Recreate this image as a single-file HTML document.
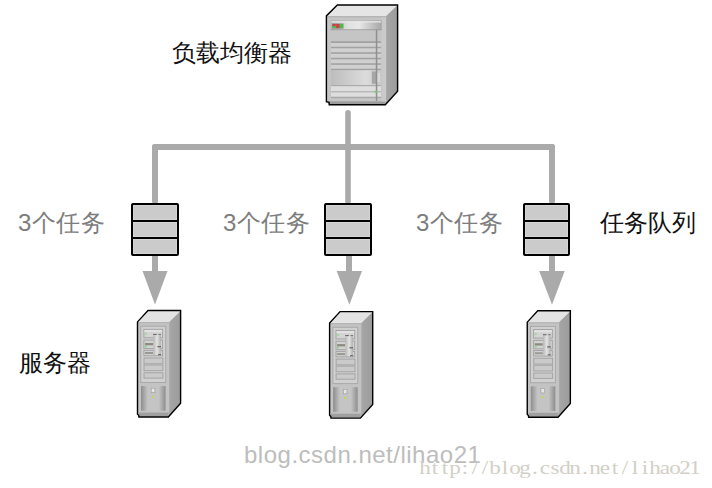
<!DOCTYPE html>
<html><head><meta charset="utf-8">
<style>
html,body{margin:0;padding:0;background:#fff;width:712px;height:488px;overflow:hidden;position:relative;font-family:"Liberation Sans",sans-serif;}
.t{position:absolute;white-space:nowrap;line-height:1;}
.k{color:#111;font-size:24px;}
.g{color:#7d7d7d;font-size:24px;letter-spacing:0.4px;}
.wm2{font-family:"Liberation Serif",serif;font-size:19px;color:#d2d0c6;}
.wm2 span{display:inline-block;width:10px;text-align:center;transform:scaleX(1.22);}
svg{position:absolute;left:0;top:0;}
</style></head><body>
<svg width="712" height="488" viewBox="0 0 712 488">
<defs>
  <linearGradient id="bar" x1="0" x2="1" y1="0" y2="0">
    <stop offset="0" stop-color="#b4b4b4"/><stop offset="0.35" stop-color="#e2e2e2"/><stop offset="0.55" stop-color="#e8e8e8"/><stop offset="1" stop-color="#a6a6a6"/>
  </linearGradient>
  <linearGradient id="door" x1="0" x2="1" y1="0" y2="0">
    <stop offset="0" stop-color="#bdbdbd"/><stop offset="0.7" stop-color="#dcdcdc"/><stop offset="1" stop-color="#c8c8c8"/>
  </linearGradient>
  <linearGradient id="side" x1="0" x2="1" y1="0" y2="0">
    <stop offset="0" stop-color="#b0b0b0"/><stop offset="0.2" stop-color="#a4a4a4"/><stop offset="1" stop-color="#9c9c9c"/>
  </linearGradient>
  <linearGradient id="recL" x1="0" x2="1" y1="0" y2="0">
    <stop offset="0" stop-color="#8e8e8e"/><stop offset="1" stop-color="#c6c6c6"/>
  </linearGradient>
  <linearGradient id="recR" x1="0" x2="1" y1="0" y2="0">
    <stop offset="0" stop-color="#c6c6c6"/><stop offset="1" stop-color="#8e8e8e"/>
  </linearGradient>
  <linearGradient id="sdoor" x1="0" x2="1" y1="0" y2="0">
    <stop offset="0" stop-color="#b8b8b8"/><stop offset="0.5" stop-color="#e4e4e4"/><stop offset="1" stop-color="#b0b0b0"/>
  </linearGradient>

  <g id="srv">
    <!-- top face -->
    <polygon points="0.8,12.3 11.3,1.2 43.6,1.2 32.2,12.3" fill="#e3e3e3"/>
    <!-- side face -->
    <polygon points="32.2,12.3 43.6,1.2 43.6,93.4 31.6,107 31.6,12.3" fill="url(#side)"/>
    <!-- front face -->
    <rect x="0.8" y="12.3" width="31.4" height="90.5" fill="#c3c3c3"/>
    <rect x="0.8" y="12.3" width="31.4" height="1.2" fill="#b4b4b4"/>
    <rect x="1.6" y="102.6" width="30.2" height="4.4" fill="#a0a0a0"/>
    <!-- inner panel -->
    <rect x="3.9" y="16.5" width="24.9" height="56.3" fill="#d0d0d0" stroke="#a9a9a9" stroke-width="1"/>
    <rect x="7" y="19.6" width="18.7" height="8.5" fill="#d4d4d4" stroke="#a0a0a0" stroke-width="0.9"/>
    <rect x="7.5" y="20.4" width="17.7" height="1.6" fill="#e4e4e4"/>
    <rect x="7" y="30.4" width="18.7" height="8.5" fill="#d2d2d2" stroke="#a0a0a0" stroke-width="0.9"/>
    <rect x="8.1" y="33.3" width="8" height="2.3" fill="#8c8c80"/>
    <rect x="7" y="40.6" width="18.7" height="5.5" fill="#d0d0d0" stroke="#a0a0a0" stroke-width="0.9"/>
    <rect x="8.1" y="42.3" width="8" height="2" fill="#9a9a94"/>
    <rect x="16.5" y="25.5" width="7.3" height="19.7" fill="url(#sdoor)"/>
    <rect x="16.2" y="24.2" width="3.6" height="1.1" fill="#6a6a6a"/>
    <rect x="21.5" y="24.2" width="2.6" height="1.1" fill="#7a7a7a"/>
    <rect x="20.5" y="36.3" width="3.6" height="1.3" fill="#6a6a6a"/>
    <rect x="21.1" y="44.3" width="3" height="1.2" fill="#6a6a6a"/>
    <rect x="8.3" y="23.5" width="1.7" height="1.3" fill="#7ad87a"/>
    <rect x="8" y="36.3" width="2" height="1.3" fill="#7ad87a"/>
    <rect x="7.1" y="48.3" width="18.9" height="5.8" fill="#cacaca" stroke="#a0a0a0" stroke-width="0.9"/>
    <rect x="7.1" y="55.3" width="18.9" height="5.7" fill="#cacaca" stroke="#a0a0a0" stroke-width="0.9"/>
    <rect x="7.1" y="63.1" width="18.9" height="5.3" fill="#cacaca" stroke="#a0a0a0" stroke-width="0.9"/>
    <!-- lower recess -->
    <rect x="4.1" y="76.4" width="24.6" height="24.6" fill="#c4c4c4"/>
    <rect x="4.1" y="76.4" width="7" height="24.6" fill="url(#recL)"/>
    <rect x="21.7" y="76.4" width="7" height="24.6" fill="url(#recR)"/>
    <rect x="14.3" y="78.5" width="3.7" height="4.5" fill="#e6e6e6" stroke="#9a9a9a" stroke-width="0.6"/>
    <circle cx="16.2" cy="87.1" r="1.1" fill="#b8e04a"/>
    <!-- outline -->
    <path d="M0.6,104.5 L0.6,12.2 L11.1,0.8 L43.7,0.8 L43.7,93.6 L31.4,107.3 L2,107.3 L1.8,105.6 Z" fill="none" stroke="#000" stroke-width="1.4" stroke-linejoin="miter"/>
  </g>
</defs>

<!-- connector lines -->
<g fill="#aaaaaa">
  <rect x="345.2" y="110" width="5.6" height="94" rx="2.8"/>
  <rect x="152" y="144" width="403" height="6" rx="3"/>
  <rect x="152" y="144" width="6" height="60" rx="3"/>
  <rect x="549" y="144" width="6" height="60" rx="3"/>
  <rect x="152" y="255" width="6" height="17"/>
  <rect x="346" y="255" width="6" height="17"/>
  <rect x="549" y="255" width="6" height="17"/>
  <polygon points="142.5,271 167.5,271 155,304.5"/>
  <polygon points="336.7,271 362,271 349.4,304.7"/>
  <polygon points="539.2,271 564.7,271 552,304.7"/>
</g>

<!-- queue boxes -->
<g id="q1">
  <rect x="132" y="204" width="46" height="51" rx="1" fill="#cbcbcb" stroke="#000" stroke-width="2"/>
  <rect x="132" y="220" width="46" height="2" fill="#000"/>
  <rect x="132" y="237" width="46" height="2" fill="#000"/>
  <rect x="133.5" y="205.5" width="43" height="14" fill="none" stroke="#d5d5d5" stroke-width="1"/>
  <rect x="133.5" y="222.5" width="43" height="14" fill="none" stroke="#d5d5d5" stroke-width="1"/>
  <rect x="133.5" y="239.5" width="43" height="14" fill="none" stroke="#d5d5d5" stroke-width="1"/>
</g>
<g>
  <rect x="325" y="204" width="46" height="51" rx="1" fill="#cbcbcb" stroke="#000" stroke-width="2"/>
  <rect x="325" y="220" width="46" height="2" fill="#000"/>
  <rect x="325" y="237" width="46" height="2" fill="#000"/>
  <rect x="326.5" y="205.5" width="43" height="14" fill="none" stroke="#d5d5d5" stroke-width="1"/>
  <rect x="326.5" y="222.5" width="43" height="14" fill="none" stroke="#d5d5d5" stroke-width="1"/>
  <rect x="326.5" y="239.5" width="43" height="14" fill="none" stroke="#d5d5d5" stroke-width="1"/>
</g>
<g>
  <rect x="524" y="204" width="45" height="51" rx="1" fill="#cbcbcb" stroke="#000" stroke-width="2"/>
  <rect x="524" y="220" width="45" height="2" fill="#000"/>
  <rect x="524" y="237" width="45" height="2" fill="#000"/>
  <rect x="525.5" y="205.5" width="42" height="14" fill="none" stroke="#d5d5d5" stroke-width="1"/>
  <rect x="525.5" y="222.5" width="42" height="14" fill="none" stroke="#d5d5d5" stroke-width="1"/>
  <rect x="525.5" y="239.5" width="42" height="14" fill="none" stroke="#d5d5d5" stroke-width="1"/>
</g>

<!-- small servers -->
<use href="#srv" x="136.9" y="309.7"/>
<use href="#srv" x="329" y="310.8"/>
<use href="#srv" x="526.65" y="309.95"/>

<!-- big server -->
<g>
  <polygon points="326.5,16 337.5,5.2 397.4,5.2 386,16" fill="#e5e5e5"/>
  <polygon points="386,16 397.4,5.2 397.4,91.2 385.2,104.6 385.2,16" fill="url(#side)"/>
  <rect x="326.5" y="16" width="59.5" height="85.5" fill="#c5c5c5"/>
  <rect x="326.5" y="16" width="59.5" height="1.5" fill="#b5b5b5"/>
  <rect x="328.5" y="101.2" width="57" height="3.6" fill="#9c9c9c"/>
  <rect x="381.5" y="17.5" width="4.5" height="84" fill="#cacaca"/>
  <!-- drive bar -->
  <rect x="330.6" y="20.5" width="51.1" height="9.6" fill="url(#bar)"/>
  <rect x="330.6" y="20.5" width="51.1" height="0.8" fill="#a8a8a8"/>
  <rect x="331.2" y="21.2" width="50" height="1.3" fill="#e8e8e8"/>
  <rect x="330.6" y="29.3" width="51.1" height="0.9" fill="#9a9a9a"/>
  <rect x="332" y="23.5" width="11.5" height="5" fill="#8a8a8a"/>
  <rect x="332.6" y="24" width="3" height="2" fill="#d83838"/>
  <rect x="332.6" y="26.3" width="3" height="1.9" fill="#38c838"/>
  <rect x="336.3" y="24" width="3" height="4.2" fill="#d83838"/>
  <rect x="340" y="24" width="2.9" height="4.2" fill="#38c838"/>
  <!-- vents -->
  <g fill="#d0d0d0">
    <rect x="331" y="43" width="50" height="3.8"/>
    <rect x="331" y="48.2" width="50" height="4"/>
    <rect x="331" y="53.8" width="50" height="4"/>
    <rect x="331" y="59.3" width="50" height="4"/>
    <rect x="331" y="64.8" width="50" height="4"/>
  </g>
  <g fill="#a2a2a2">
    <rect x="331" y="41.2" width="50" height="1.8"/>
    <rect x="331" y="46.8" width="50" height="1.4"/>
    <rect x="331" y="52.3" width="50" height="1.5"/>
    <rect x="331" y="57.8" width="50" height="1.5"/>
    <rect x="331" y="63.3" width="50" height="1.5"/>
    <rect x="331" y="68.8" width="50" height="1.5"/>
  </g>
  <!-- door area -->
  <rect x="331" y="70.3" width="50" height="14.8" fill="url(#door)"/>
  <rect x="371.8" y="71.5" width="5" height="12.3" fill="#a6a6a6"/>
  <rect x="377" y="73" width="3" height="9" fill="#d8d8d8"/>
  <rect x="331" y="85.1" width="50" height="1.2" fill="#a8a8a8"/>
  <rect x="331" y="86.3" width="50" height="5" fill="#dedede"/>
  <rect x="331" y="91.3" width="50" height="1.2" fill="#b0b0b0"/>
  <rect x="331" y="92.5" width="50" height="4.3" fill="#dedede"/>
  <rect x="331" y="96.8" width="50" height="1.3" fill="#a8a8a8"/>
  <rect x="375.8" y="30" width="1.5" height="71" fill="#8f8f8f"/>
  <circle cx="375.6" cy="91.8" r="1.2" fill="#7ad07a"/>
  <path d="M326.4,101.6 L326.4,15.9 L337.3,5 L397.6,5 L397.6,91.3 L385.3,104.7 L329.3,104.7 L329,102.3 Z" fill="none" stroke="#000" stroke-width="1.4"/>
</g>
</svg>

<div class="t k" style="left:172px;top:41px;">负载均衡器</div>
<div class="t g" style="left:18px;top:211px;">3个任务</div>
<div class="t g" style="left:223px;top:211px;">3个任务</div>
<div class="t g" style="left:416px;top:211px;">3个任务</div>
<div class="t k" style="left:600px;top:211px;">任务队列</div>
<div class="t k" style="left:18.5px;top:351px;">服务器</div>
<div class="t" style="left:244px;top:443px;font-size:24px;letter-spacing:0.5px;color:#bdbdbd;">blog.csdn.net/lihao21</div>
<div class="t wm2" style="left:420px;top:458px;"><span>h</span><span>t</span><span>t</span><span>p</span><span>:</span><span>/</span><span>/</span><span>b</span><span>l</span><span>o</span><span>g</span><span>.</span><span>c</span><span>s</span><span>d</span><span>n</span><span>.</span><span>n</span><span>e</span><span>t</span><span>/</span><span>l</span><span>i</span><span>h</span><span>a</span><span>o</span><span>2</span><span>1</span></div>
</body></html>
